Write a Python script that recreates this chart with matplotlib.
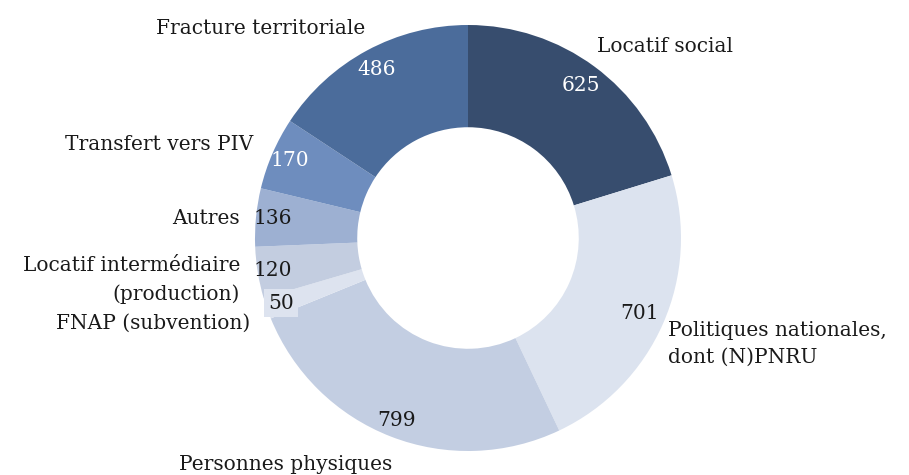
import numpy as np
import matplotlib
matplotlib.use("Agg")
import matplotlib.pyplot as plt

categories = ["Locatif social", "Politiques nationales,\ndont (N)PNRU", "Personnes physiques",
              "FNAP (subvention)", "Locatif intermédiaire\n(production)", "Autres",
              "Transfert vers PIV", "Fracture territoriale"]
values = [625, 701, 799, 50, 120, 136, 170, 486]

colors = ["#374D6E", "#DCE3EF", "#C3CEE2", "#DDE3EF", "#C3CDE0", "#9DB0D2", "#6E8DBE", "#4B6C9B"]
value_colors = ["white", "#1a1a1a", "#1a1a1a", "#1a1a1a", "#1a1a1a", "#1a1a1a", "white", "white"]
value_r = [0.89, 0.88, 0.92, 0.93, 0.93, 0.92, 0.91, 0.90]

# label positions in pixel coords (x, y from top) and alignment
label_pos = [(665, 46, "center"), (668, 344, "left"), (286, 465, "center"),
             (250, 323, "right"), (240, 280, "right"), (240, 218, "right"),
             (253, 145, "right"), (261, 28, "center")]

W, H = 909, 475
cx, cy, R = 468, 238, 213
plt.rcParams['font.family'] = ['DejaVu Serif']
fig = plt.figure(figsize=(W / 100, H / 100), dpi=100)
ax = fig.add_axes([(cx - R) / W, (H - cy - R) / H, 2 * R / W, 2 * R / H])

wedges, _ = ax.pie(values, colors=colors, startangle=90, counterclock=False, radius=1.0,
                   wedgeprops=dict(width=0.48, edgecolor="none", linewidth=0))
ax.set_xlim(-1, 1)
ax.set_ylim(-1, 1)
ax.set_aspect("equal")
ax.axis("off")

fs = 14.5
for w, v, c, r in zip(wedges, values, value_colors, value_r):
    th = np.deg2rad((w.theta1 + w.theta2) / 2)
    kw = {}
    if v == 50:
        kw["bbox"] = dict(boxstyle="square,pad=0.22", facecolor=colors[3], edgecolor="none")
    ax.text(r * np.cos(th), r * np.sin(th), str(v), ha="center", va="center",
            fontsize=fs, color=c, **kw)

for cat, (px, py, ha) in zip(categories, label_pos):
    ax.text((px - cx) / R, (cy - py) / R, cat, ha=ha, va="center", fontsize=fs,
            color="#1a1a1a", linespacing=1.55, multialignment=ha)

fig.savefig("out.png", dpi=100)
